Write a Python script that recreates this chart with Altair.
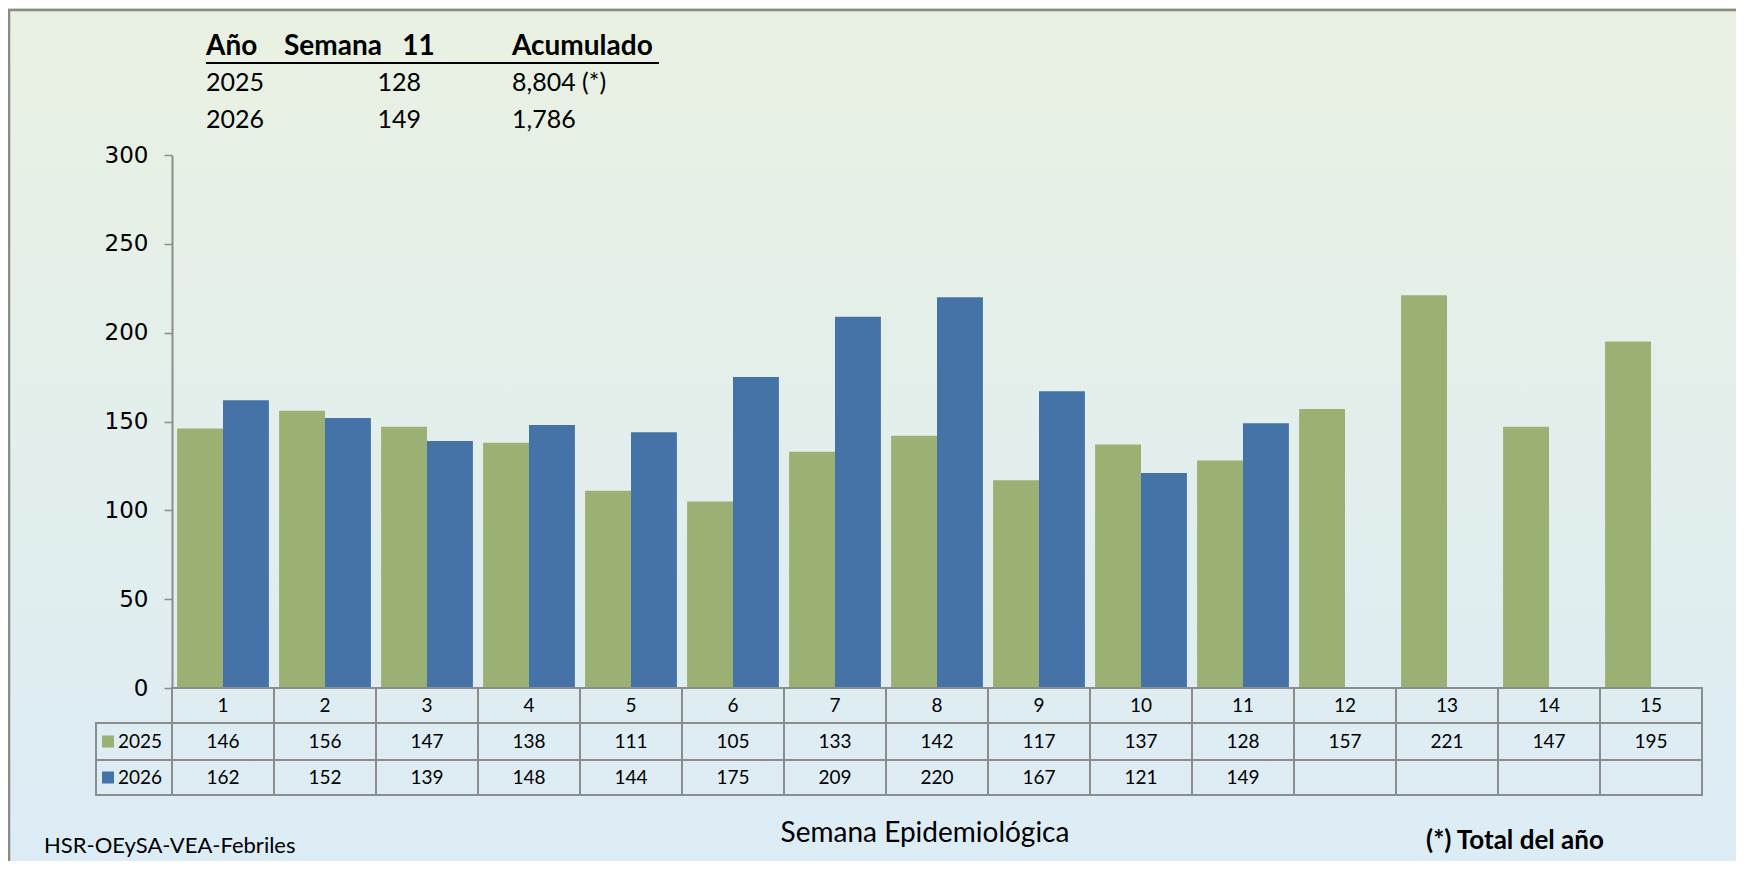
import altair as alt
import pandas as pd

# ---------------- data ----------------
weeks = list(range(1, 16))
years = ["2025", "2026"]
cases_2025 = [146, 156, 147, 138, 111, 105, 133, 142, 117, 137, 128, 157, 221, 147, 195]
cases_2026 = [162, 152, 139, 148, 144, 175, 209, 220, 167, 121, 149]
y_ticks = [0, 50, 100, 150, 200, 250, 300]

summary_years = ["2025", "2026"]
summary_week = ["128", "149"]
summary_acum = ["8,804 (*)", "1,786"]
summary_headers = ["Año", "Semana\u00a0\u00a0\u00a011", "Acumulado"]

source_label = "HSR-OEySA-VEA-Febriles"
x_title = "Semana Epidemiológica"
footnote = "(*) Total del año"

GREEN = "#9bb174"
BLUE = "#4572a7"
GRID = "#8c8c8c"
FONT = "Lato"

rows = []
for w, v in zip(weeks, cases_2025):
    rows.append({"week": w, "year": "2025", "cases": v})
for w, v in zip(weeks, cases_2026):
    rows.append({"week": w, "year": "2026", "cases": v})
df = pd.DataFrame(rows)
weeks_df = pd.DataFrame({"week": weeks})
one = pd.DataFrame({"a": [0]})

W, H = 1530, 533

# ---------------- background + frame ----------------
bg = alt.Chart(one).mark_rect(
    color=alt.Gradient(
        gradient="linear",
        stops=[alt.GradientStop(color="#e9f1e1", offset=0),
               alt.GradientStop(color="#dcecf6", offset=1)],
        x1=0, x2=0, y1=0, y2=1,
    )
).encode(x=alt.value(-170), x2=alt.value(1570), y=alt.value(-160), y2=alt.value(720))

frame = alt.Chart(one).mark_rect(fillOpacity=0, stroke="#888c86", strokeWidth=2.5).encode(
    x=alt.value(-163), x2=alt.value(1600), y=alt.value(-145), y2=alt.value(760)
)

# ---------------- bars ----------------
bars = alt.Chart(df).mark_bar().encode(
    x=alt.X("week:O", scale=alt.Scale(domain=weeks, paddingInner=0.1, paddingOuter=0.05), axis=None),
    xOffset=alt.XOffset("year:N", scale=alt.Scale(domain=years, paddingInner=0, paddingOuter=0)),
    y=alt.Y("cases:Q", scale=alt.Scale(domain=[0, 300], nice=False),
            axis=alt.Axis(values=y_ticks, title=None, grid=False, domain=True,
                          domainColor=GRID, domainWidth=2, tickColor=GRID, tickWidth=1.5,
                          tickSize=8, labelPadding=16, labelFont="DejaVu Sans",
                          labelFontSize=23, labelColor="#000000", zindex=2)),
    color=alt.Color("year:N", scale=alt.Scale(domain=years, range=[GREEN, BLUE]), legend=None),
)

# ---------------- table ----------------
tscale = alt.Scale(domain=weeks, paddingInner=0, paddingOuter=0)
row_bounds = [(533, 568), (568, 605), (605, 640)]
row_centers = [(a + b) / 2 for a, b in row_bounds]

cells = []
for (a, b) in row_bounds:
    cells.append(
        alt.Chart(weeks_df).mark_rect(fillOpacity=0, stroke=GRID, strokeWidth=2).encode(
            x=alt.X("week:O", scale=tscale, axis=None), y=alt.value(a), y2=alt.value(b)
        )
    )

txt_kw = dict(font=FONT, fontSize=19, color="#000000", baseline="middle", align="center")
week_txt = alt.Chart(weeks_df).mark_text(**txt_kw).encode(
    x=alt.X("week:O", scale=tscale, axis=None), y=alt.value(row_centers[0]), text="week:O"
)
val_txt = []
for i, yr in enumerate(years):
    val_txt.append(
        alt.Chart(df[df["year"] == yr]).mark_text(**txt_kw).encode(
            x=alt.X("week:O", scale=tscale, axis=None), y=alt.value(row_centers[i + 1]),
            text="cases:Q"
        )
    )

legend_layers = []
for i, yr in enumerate(years):
    a, b = row_bounds[i + 1]
    c = row_centers[i + 1]
    ld = pd.DataFrame({"year": [yr]})
    legend_layers.append(
        alt.Chart(ld).mark_rect(fillOpacity=0, stroke=GRID, strokeWidth=2).encode(
            x=alt.value(-76), x2=alt.value(0), y=alt.value(a), y2=alt.value(b)
        )
    )
    legend_layers.append(
        alt.Chart(ld).mark_rect().encode(
            x=alt.value(-70), x2=alt.value(-58), y=alt.value(c - 6), y2=alt.value(c + 6),
            color=alt.Color("year:N", scale=alt.Scale(domain=years, range=[GREEN, BLUE]), legend=None)
        )
    )
    legend_layers.append(
        alt.Chart(ld).mark_text(font=FONT, fontSize=19, color="#000000", baseline="middle",
                                align="left").encode(
            x=alt.value(-54), y=alt.value(c), text="year:N"
        )
    )

# ---------------- summary table (top) ----------------
hdr_df = pd.DataFrame({"t": summary_headers, "x": [34, 112, 340]})
hdr = alt.Chart(hdr_df).mark_text(font=FONT, fontSize=28, fontWeight="bold", color="#000000",
                                  align="left", baseline="middle").encode(
    x=alt.X("x:Q", scale=None), y=alt.value(-108), text="t:N"
)
hdr_line = alt.Chart(one).mark_rule(color="#000000", strokeWidth=2).encode(
    x=alt.value(34), x2=alt.value(487), y=alt.value(-92)
)
sum_layers = []
for i in range(2):
    yv = -72 + i * 37
    sd = pd.DataFrame({"yr": [summary_years[i]], "wk": [summary_week[i]], "ac": [summary_acum[i]]})
    base = alt.Chart(sd).mark_text(font=FONT, fontSize=25, color="#000000", align="left",
                                   baseline="middle")
    sum_layers.append(base.encode(x=alt.value(34), y=alt.value(yv), text="yr:N"))
    sum_layers.append(
        alt.Chart(sd).mark_text(font=FONT, fontSize=25, color="#000000", align="right",
                                baseline="middle").encode(x=alt.value(249), y=alt.value(yv), text="wk:N")
    )
    sum_layers.append(base.encode(x=alt.value(340), y=alt.value(yv), text="ac:N"))

# ---------------- bottom labels ----------------
lab_df = pd.DataFrame({"t": [source_label]})
src = alt.Chart(lab_df).mark_text(font=FONT, fontSize=22, color="#000000", align="left",
                                  baseline="middle").encode(x=alt.value(-128), y=alt.value(691), text="t:N")
xt_df = pd.DataFrame({"t": [x_title]})
xt = alt.Chart(xt_df).mark_text(font=FONT, fontSize=28, color="#000000", align="center",
                                baseline="middle").encode(x=alt.value(753), y=alt.value(679), text="t:N")
fn_df = pd.DataFrame({"t": [footnote]})
fn = alt.Chart(fn_df).mark_text(font=FONT, fontSize=26, fontWeight="bold", color="#000000",
                                align="left", baseline="middle").encode(x=alt.value(1254), y=alt.value(686), text="t:N")

chart = alt.layer(
    bg, frame, bars, *cells, week_txt, *val_txt, *legend_layers,
    hdr, hdr_line, *sum_layers, src, xt, fn
).resolve_scale(x="independent", color="independent").properties(
    width=W, height=H,
    padding={"left": 164, "top": 147, "right": 34, "bottom": 173},
    autosize=alt.AutoSizeParams(type="none"),
).configure_view(stroke=None).configure(background="#ffffff")

chart.save("out.html", embed_options={"renderer": "svg", "actions": False})
